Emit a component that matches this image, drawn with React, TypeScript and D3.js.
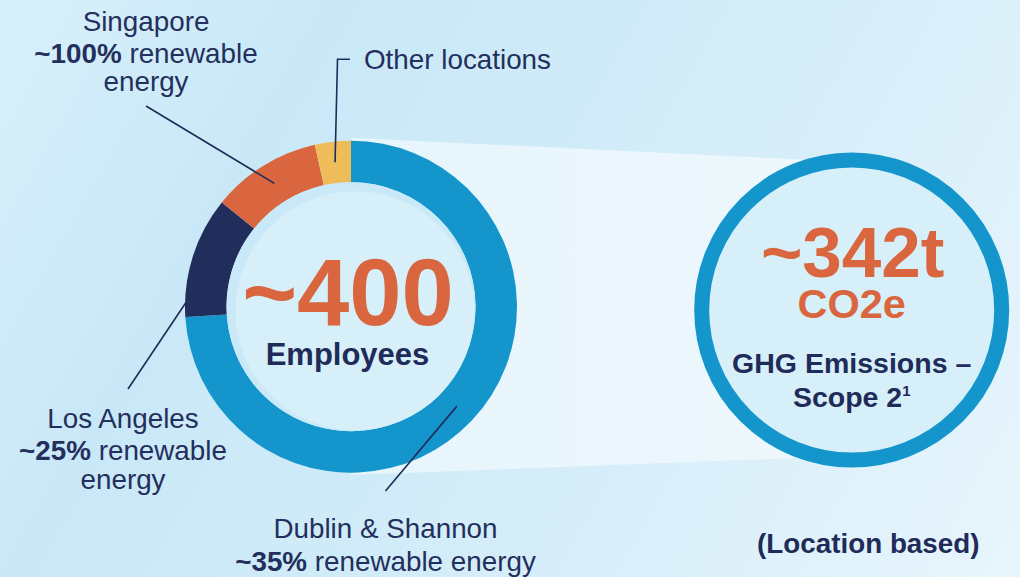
import React from "react";
import * as d3 from "d3";

// ---- data ----
const locations = ["Dublin & Shannon", "Los Angeles", "Singapore", "Other locations"];
const employeeShare = [74, 11.8, 10.7, 3.5];
const renewableShare = ["~35%", "~25%", "~100%", ""];
const segmentColors = ["#1496cd", "#212d5a", "#d9663f", "#eebd5a"];
const totalEmployees = "~400";
const emissionsValue = "~342t";
const emissionsUnit = "CO2e";

const W = 1020;
const H = 577;
const FONT = "'Liberation Sans', Arial, Helvetica, sans-serif";
const NAVY = "#1f2b58";
const ORANGE = "#d9663f";
const BLUE = "#1496cd";

export default function App() {
  const cx = 351, cy = 306.7, rOuter = 166, rInner = 124.5;
  const rcx = 851.7, rcy = 310, rr = 150;

  const data = locations.map((name, i) => ({ name, value: employeeShare[i], color: segmentColors[i], pct: renewableShare[i] }));
  const pie = d3.pie<any>().sort(null).value((d: any) => d.value).startAngle(0).endAngle(2 * Math.PI);
  const arcs = pie(data);
  const arc = d3.arc<any>().innerRadius(rInner).outerRadius(rOuter);
  const centroid = (i: number) => {
    const c = arc.centroid(arcs[i]);
    return [c[0] + cx, c[1] + cy];
  };

  // label layout (positions)
  const leaderStart: Record<string, [number, number][]> = {
    "Dublin & Shannon": [[385.5, 491]],
    "Los Angeles": [[128, 389]],
    "Singapore": [[146, 106]],
    "Other locations": [[350, 59.3], [337.5, 59.3]],
  };

  const beam = d3.line()([
    [cx, 137.7],
    [rcx, 162],
    [rcx, 456],
    [cx, 475],
  ]);

  const line = (i: number, behind: boolean) => {
    const name = locations[i];
    const pts = [...leaderStart[name], centroid(i) as [number, number]];
    return (
      <path key={name + behind} d={d3.line()(pts) as string} fill="none" stroke="#1f2b58" strokeWidth={1.6} />
    );
  };

  const labelStyle = { fontFamily: FONT, fontSize: 27.8, fill: "#232f5c" } as const;

  return (
    <svg width={W} height={H} style={{ position: "fixed", left: 0, top: 0 }}>
      <defs>
        <linearGradient id="bg" gradientUnits="userSpaceOnUse" x1={0} y1={0} x2={W} y2={H}>
          <stop offset="0" stopColor="#d8f0fb" />
          <stop offset="0.25" stopColor="#c9e8f7" />
          <stop offset="0.6" stopColor="#d4edf9" />
          <stop offset="1" stopColor="#e8f5fc" />
        </linearGradient>
        <linearGradient id="beam" gradientUnits="userSpaceOnUse" x1={cx} y1={0} x2={rcx} y2={0}>
          <stop offset="0" stopColor="#e6f5fc" />
          <stop offset="1" stopColor="#eef8fd" />
        </linearGradient>
      </defs>
      <rect width={W} height={H} fill="url(#bg)" />
      <path d={beam as string} fill="url(#beam)" />

      {/* Los Angeles leader drawn behind the donut */}
      {line(1, true)}

      <g transform={`translate(${cx},${cy})`}>
        {arcs.map((a, i) => (
          <path key={i} d={arc(a) as string} fill={a.data.color} />
        ))}
        <circle r={rInner} fill="#c9e9f8" />
        <circle cx={4} cy={4} r={rInner - 5} fill="#d6eff9" />
      </g>

      {line(0, false)}
      {line(2, false)}
      {line(3, false)}

      <text x={cx - 3} y={325} textAnchor="middle" style={{ fontFamily: FONT, fontWeight: 700, fontSize: 94, fill: ORANGE }}>
        {totalEmployees}
      </text>
      <text x={cx - 3.5} y={365} textAnchor="middle" style={{ fontFamily: FONT, fontWeight: 700, fontSize: 31, fill: NAVY }}>
        Employees
      </text>

      <circle cx={rcx} cy={rcy} r={rr} fill="#d6eff9" stroke={BLUE} strokeWidth={15} />
      <text x={rcx + 1} y={276.5} textAnchor="middle" style={{ fontFamily: FONT, fontWeight: 700, fontSize: 71, fill: ORANGE }}>
        {emissionsValue}
      </text>
      <text x={rcx} y={318} textAnchor="middle" style={{ fontFamily: FONT, fontWeight: 700, fontSize: 41.5, fill: ORANGE }}>
        {emissionsUnit}
      </text>
      <text x={rcx} y={372.7} textAnchor="middle" style={{ fontFamily: FONT, fontWeight: 700, fontSize: 28.5, fill: NAVY }}>
        GHG Emissions –
      </text>
      <text x={rcx} y={407.3} textAnchor="middle" style={{ fontFamily: FONT, fontWeight: 700, fontSize: 28.5, fill: NAVY }}>
        Scope 2<tspan dy={-11} style={{ fontSize: 15 }}>1</tspan>
      </text>

      <text x={868.3} y={553.3} textAnchor="middle" style={{ fontFamily: FONT, fontWeight: 700, fontSize: 27.8, fill: NAVY }}>
        (Location based)
      </text>

      {/* Singapore */}
      <text textAnchor="middle" style={labelStyle}>
        <tspan x={146} y={31}>{locations[2]}</tspan>
        <tspan x={146} y={63}>
          <tspan style={{ fontWeight: 700 }}>{renewableShare[2]}</tspan> renewable
        </tspan>
        <tspan x={146} y={91}>energy</tspan>
      </text>

      {/* Other */}
      <text x={364} y={68.5} style={labelStyle}>{locations[3]}</text>

      {/* Los Angeles */}
      <text textAnchor="middle" style={labelStyle}>
        <tspan x={123} y={428}>{locations[1]}</tspan>
        <tspan x={123} y={460}>
          <tspan style={{ fontWeight: 700 }}>{renewableShare[1]}</tspan> renewable
        </tspan>
        <tspan x={123} y={489}>energy</tspan>
      </text>

      {/* Dublin */}
      <text textAnchor="middle" style={labelStyle}>
        <tspan x={385.5} y={538}>{locations[0]}</tspan>
        <tspan x={385.5} y={571}>
          <tspan style={{ fontWeight: 700 }}>{renewableShare[0]}</tspan> renewable energy
        </tspan>
      </text>
    </svg>
  );
}
